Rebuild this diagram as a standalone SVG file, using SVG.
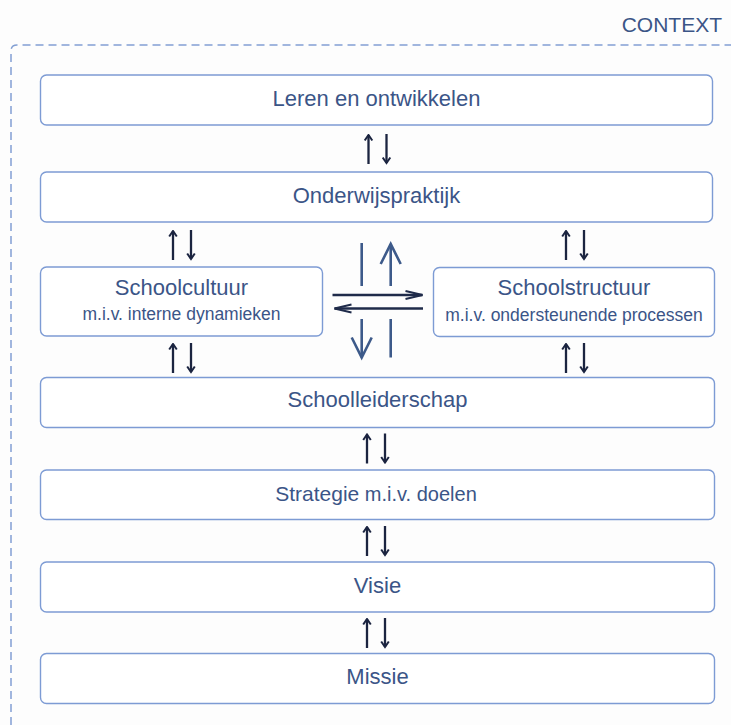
<svg xmlns="http://www.w3.org/2000/svg" width="731" height="725" viewBox="0 0 731 725">
<style>
text{font-family:"Liberation Sans",Arial,sans-serif;fill:#3b5587;text-anchor:middle}
.box{fill:#ffffff;stroke:#7d9bd4;stroke-width:1.4}
.t{font-size:22px}
.s{font-size:17.5px}
.sa{stroke:#1b2440;stroke-width:2.3;fill:none}
.va{stroke:#3d5a8a;stroke-width:2.6;fill:none}
.ha{stroke:#1f2b4a;stroke-width:2.4;fill:none}
</style>
<defs>
<marker id="sm" markerUnits="userSpaceOnUse" viewBox="0 0 10 10" markerWidth="10" markerHeight="10" refX="8.5" refY="5" orient="auto">
<path d="M3,1.2 L8.5,5 L3,8.8" fill="none" stroke="#1b2440" stroke-width="2"/>
</marker>
<marker id="bigv" markerUnits="userSpaceOnUse" viewBox="-2 -2 26 26" markerWidth="26" markerHeight="26" refX="20" refY="10" orient="auto">
<path d="M0,0 L20,10 L0,20" fill="none" stroke="#3d5a8a" stroke-width="2.6"/>
</marker>
<marker id="hv" markerUnits="userSpaceOnUse" viewBox="-2 -2 22 12" markerWidth="22" markerHeight="12" refX="17" refY="4" orient="auto">
<path d="M0,0 L17,4 L0,8" fill="none" stroke="#1f2b4a" stroke-width="2"/>
</marker>
</defs>
<rect x="0" y="0" width="731" height="725" fill="#fdfdfd"/>
<g id="context">
<path d="M11,725 L11,51 Q11,45 17,45 L731,45" fill="none" stroke="#829fd3" stroke-width="1.5" stroke-dasharray="8,5"/>
<text x="722" y="31.5" style="font-size:21px;text-anchor:end">CONTEXT</text>
</g>
<g id="leren">
<rect class="box" x="40.5" y="75" width="672" height="50" rx="6"/>
<text class="t" x="376.5" y="106">Leren en ontwikkelen</text>
</g>
<g id="onderwijspraktijk">
<rect class="box" x="40.5" y="172" width="672" height="50" rx="6"/>
<text class="t" x="376.5" y="203">Onderwijspraktijk</text>
</g>
<g id="schoolcultuur">
<rect class="box" x="40.5" y="267" width="282" height="69" rx="6"/>
<text class="t" x="181.5" y="295">Schoolcultuur</text>
<text class="s" x="181.5" y="320">m.i.v. interne dynamieken</text>
</g>
<g id="schoolstructuur">
<rect class="box" x="433.5" y="267.5" width="281" height="69" rx="6"/>
<text class="t" x="574" y="295">Schoolstructuur</text>
<text class="s" x="574" y="321">m.i.v. ondersteunende processen</text>
</g>
<g id="schoolleiderschap">
<rect class="box" x="40.5" y="377.5" width="674" height="50" rx="6"/>
<text class="t" x="377.5" y="407">Schoolleiderschap</text>
</g>
<g id="strategie">
<rect class="box" x="40.5" y="470" width="674" height="49.5" rx="6"/>
<text x="376" y="501"><tspan style="font-size:21px">Strategie</tspan><tspan style="font-size:20px"> m.i.v. doelen</tspan></text>
</g>
<g id="visie">
<rect class="box" x="40.5" y="562" width="674" height="50" rx="6"/>
<text class="t" x="377.5" y="593">Visie</text>
</g>
<g id="missie">
<rect class="box" x="40.5" y="653.5" width="674" height="50" rx="6"/>
<text class="t" x="377.5" y="684">Missie</text>
</g>
<g id="connectors">
<path class="sa" d="M368.5,164 V135" marker-end="url(#sm)"/>
<path class="sa" d="M386.5,134 V163" marker-end="url(#sm)"/>
<path class="sa" d="M173,260 V231" marker-end="url(#sm)"/>
<path class="sa" d="M191,230 V259" marker-end="url(#sm)"/>
<path class="sa" d="M566,260 V231" marker-end="url(#sm)"/>
<path class="sa" d="M584,230 V259" marker-end="url(#sm)"/>
<path class="sa" d="M173,373 V344" marker-end="url(#sm)"/>
<path class="sa" d="M191,343 V372" marker-end="url(#sm)"/>
<path class="sa" d="M566,373 V344" marker-end="url(#sm)"/>
<path class="sa" d="M584,343 V372" marker-end="url(#sm)"/>
<path class="sa" d="M367,463.5 V434.5" marker-end="url(#sm)"/>
<path class="sa" d="M385,433.5 V462.5" marker-end="url(#sm)"/>
<path class="sa" d="M367,556 V527" marker-end="url(#sm)"/>
<path class="sa" d="M385,526 V555" marker-end="url(#sm)"/>
<path class="sa" d="M367,648 V619" marker-end="url(#sm)"/>
<path class="sa" d="M385,618 V647" marker-end="url(#sm)"/>
<path class="va" d="M361.7,243 V286"/>
<path class="va" d="M390.7,286 V244" marker-end="url(#bigv)"/>
<path class="va" d="M361.7,319 V357.5" marker-end="url(#bigv)"/>
<path class="va" d="M390.7,319 V357.5"/>
<path class="ha" d="M332.5,295 H422.5" marker-end="url(#hv)"/>
<path class="ha" d="M423,308.5 H334.5" marker-end="url(#hv)"/>
</g>
</svg>
